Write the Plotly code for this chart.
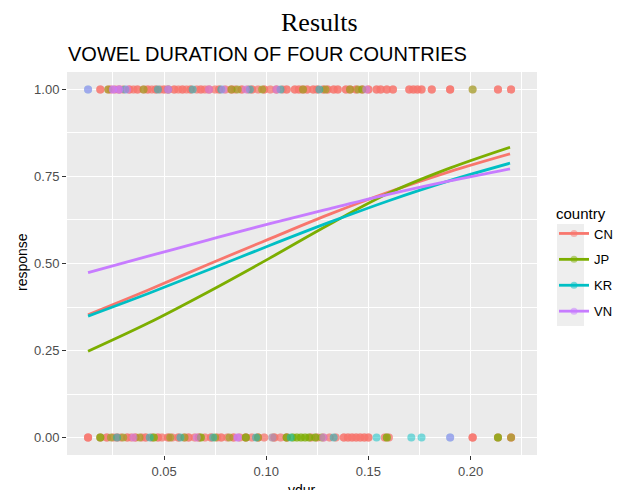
import numpy as np
import plotly.graph_objects as go

# ---------------- data ----------------
countries = ["CN", "JP", "KR", "VN"]
colors = {"CN": "#F8766D", "JP": "#7CAE00", "KR": "#00BFC4", "VN": "#C77CFF"}

# observed vowel durations (vdur) with response = 1 / response = 0, with repeat counts
CN_resp1 = [0.0188, 0.0227, 0.024, 0.026, 0.028, 0.030, 0.033, 0.035, 0.037, 0.040, 0.042, 0.044,
            0.046, 0.048, 0.050, 0.052, 0.055, 0.057, 0.059, 0.061, 0.063, 0.066, 0.068, 0.070,
            0.072, 0.075, 0.077, 0.080, 0.083, 0.085, 0.088, 0.091, 0.093, 0.096, 0.099, 0.102,
            0.105, 0.108, 0.110, 0.114, 0.116, 0.118, 0.120, 0.123, 0.125, 0.128, 0.130, 0.133,
            0.135, 0.139, 0.141, 0.144, 0.147, 0.150, 0.154, 0.156, 0.159, 0.162, 0.170, 0.172,
            0.174, 0.176, 0.181, 0.190, 0.201, 0.2134, 0.2198]
CN_resp1_n = [3, 2, 2, 2, 3, 2, 3, 2, 3, 2, 3, 2, 3, 2, 3, 2, 3, 2, 3, 2, 3, 2, 3, 2, 3, 2, 3, 2, 3,
              2, 3, 2, 3, 2, 3, 2, 3, 2, 3, 3, 3, 3, 3, 3, 3, 3, 3, 3, 3, 3, 3, 3, 3, 3, 3, 3, 3, 3,
              3, 3, 3, 3, 3, 4, 1, 3, 3]
CN_resp0 = [0.0128, 0.0188, 0.022, 0.025, 0.027, 0.029, 0.032, 0.034, 0.036, 0.039, 0.041, 0.044,
            0.047, 0.049, 0.052, 0.054, 0.057, 0.060, 0.062, 0.065, 0.067, 0.070, 0.073, 0.076,
            0.078, 0.081, 0.084, 0.087, 0.090, 0.093, 0.096, 0.099, 0.104, 0.107, 0.110, 0.122,
            0.125, 0.128, 0.131, 0.134, 0.138, 0.140, 0.142, 0.144, 0.146, 0.148, 0.150, 0.158,
            0.160, 0.201, 0.2134, 0.2198]
CN_resp0_n = [4, 2, 3, 2, 3, 2, 3, 2, 3, 2, 3, 2, 3, 2, 3, 2, 3, 2, 3, 2, 3, 2, 3, 2, 3, 2, 3, 2, 3,
              2, 3, 2, 3, 2, 3, 2, 2, 2, 2, 2, 3, 3, 3, 3, 3, 3, 3, 2, 2, 4, 2, 3]

JP_resp1 = [0.0227, 0.040, 0.052, 0.083, 0.086, 0.098, 0.118, 0.129, 0.141, 0.145, 0.147, 0.201]
JP_resp1_n = [1, 1, 1, 1, 1, 1, 1, 1, 1, 1, 1, 1]
JP_resp0 = [0.0188, 0.024, 0.030, 0.038, 0.045, 0.053, 0.060, 0.068, 0.075, 0.082, 0.090, 0.096,
            0.103, 0.110, 0.113, 0.115, 0.117, 0.119, 0.121, 0.124, 0.127, 0.159, 0.2134, 0.2198]
JP_resp0_n = [2, 1, 1, 1, 2, 1, 1, 2, 1, 1, 2, 1, 1, 2, 2, 2, 2, 2, 2, 2, 1, 2, 2, 1]

KR_resp1 = [0.0128, 0.031, 0.047, 0.064, 0.078, 0.092, 0.107, 0.126]
KR_resp1_n = [1, 1, 1, 1, 1, 1, 1, 1]
KR_resp0 = [0.027, 0.043, 0.058, 0.074, 0.095, 0.112, 0.133, 0.154, 0.171, 0.176, 0.190]
KR_resp0_n = [1, 1, 1, 1, 1, 1, 1, 1, 1, 1, 1]

VN_resp1 = [0.0128, 0.025, 0.028, 0.032, 0.052, 0.072, 0.079, 0.090, 0.105, 0.149]
VN_resp1_n = [1, 2, 2, 1, 2, 1, 1, 1, 1, 1]
VN_resp0 = [0.035, 0.066, 0.086, 0.103, 0.128, 0.190]
VN_resp0_n = [1, 1, 2, 1, 1, 1]

points = {
    "CN": (CN_resp1, CN_resp1_n, CN_resp0, CN_resp0_n),
    "JP": (JP_resp1, JP_resp1_n, JP_resp0, JP_resp0_n),
    "KR": (KR_resp1, KR_resp1_n, KR_resp0, KR_resp0_n),
    "VN": (VN_resp1, VN_resp1_n, VN_resp0, VN_resp0_n),
}

# fitted logistic curves
fit_vdur = [0.0128, 0.0423, 0.0718, 0.1013, 0.1308, 0.1603, 0.1898, 0.2193]
CN_fit = [0.353, 0.424, 0.498, 0.570, 0.641, 0.706, 0.764, 0.815]
JP_fit = [0.248, 0.329, 0.419, 0.514, 0.612, 0.703, 0.774, 0.834]
KR_fit = [0.349, 0.414, 0.482, 0.551, 0.618, 0.681, 0.738, 0.788]
VN_fit = [0.474, 0.521, 0.568, 0.614, 0.657, 0.699, 0.737, 0.772]
fits = {"CN": CN_fit, "JP": JP_fit, "KR": KR_fit, "VN": VN_fit}

x_ticks = [0.05, 0.10, 0.15, 0.20]
x_tick_labels = ["0.05", "0.10", "0.15", "0.20"]
y_ticks = [0.0, 0.25, 0.5, 0.75, 1.0]
y_tick_labels = ["0.00", "0.25", "0.50", "0.75", "1.00"]

# ---------------- figure ----------------
SANS = "Liberation Sans, Arial, sans-serif"
fig = go.Figure()

for c in countries:
    r1, n1, r0, n0 = points[c]
    xs = list(np.repeat(r1, n1)) + list(np.repeat(r0, n0))
    ys = [1] * int(np.sum(n1)) + [0] * int(np.sum(n0))
    fig.add_trace(go.Scatter(
        x=xs, y=ys, mode="markers", showlegend=False, hoverinfo="skip",
        marker=dict(color=colors[c], size=8, opacity=0.5, line=dict(width=0)),
    ))

for c in countries:
    fig.add_trace(go.Scatter(
        x=fit_vdur, y=fits[c], mode="lines", showlegend=False,
        line=dict(color=colors[c], width=2.8, shape="spline", smoothing=1.0),
    ))

# legend entries (line + point key)
for c in countries:
    fig.add_trace(go.Scatter(
        x=[None], y=[None], mode="lines+markers", name=c, legendgroup=c,
        line=dict(color=colors[c], width=2.8),
        marker=dict(color=colors[c], size=7, opacity=0.5),
    ))

L, R, T, B = 67, 84, 72, 35
W, H = 621, 490
pw, ph = W - L - R, H - T - B

def px_x(p):
    return (p - L) / pw

def px_y(p):
    return (H - B - p) / ph

fig.update_layout(
    width=W, height=H,
    margin=dict(l=L, r=R, t=T, b=B, autoexpand=False),
    paper_bgcolor="white",
    plot_bgcolor="#EBEBEB",
    font=dict(family=SANS, color="#4D4D4D", size=13),
    showlegend=True,
    legend=dict(
        x=px_x(554), y=px_y(199), xanchor="left", yanchor="top",
        title=dict(text="country", font=dict(size=15, color="black", family=SANS)),
        font=dict(size=13, color="black", family=SANS),
        bgcolor="rgba(0,0,0,0)", tracegroupgap=6, itemwidth=30,
    ),
    xaxis=dict(
        range=[0.0025, 0.2325], tickvals=x_ticks, ticktext=x_tick_labels,
        showgrid=True, gridcolor="white", gridwidth=1.4,
        minor=dict(tickvals=[0.025, 0.075, 0.125, 0.175, 0.225], showgrid=True,
                   gridcolor="white", gridwidth=0.6, ticks=""),
        zeroline=False, showline=False,
        ticks="outside", ticklen=4, tickcolor="#333333", tickwidth=1,
        tickfont=dict(size=13, color="#4D4D4D"),
    ),
    yaxis=dict(
        range=[-0.05, 1.05], tickvals=y_ticks, ticktext=y_tick_labels,
        showgrid=True, gridcolor="white", gridwidth=1.4,
        minor=dict(tickvals=[0.125, 0.375, 0.625, 0.875], showgrid=True,
                   gridcolor="white", gridwidth=0.6, ticks=""),
        zeroline=False, showline=False,
        ticks="outside", ticklen=4, tickcolor="#333333", tickwidth=1,
        tickfont=dict(size=13, color="#4D4D4D"),
    ),
    shapes=[dict(
        type="rect", xref="paper", yref="paper",
        x0=px_x(557), x1=px_x(584), y0=px_y(326), y1=px_y(224),
        fillcolor="#EEEEEE", line=dict(width=0), layer="below",
    )],
    annotations=[
        dict(text="Results", xref="paper", yref="paper", x=px_x(319), y=px_y(22),
             xanchor="center", yanchor="middle", showarrow=False,
             font=dict(family="Liberation Serif, Times New Roman, serif", size=26, color="black")),
        dict(text="VOWEL DURATION OF FOUR COUNTRIES", xref="paper", yref="paper",
             x=px_x(66), y=px_y(54), xanchor="left", yanchor="middle", showarrow=False,
             font=dict(family=SANS, size=20, color="black")),
        dict(text="response", xref="paper", yref="paper", x=px_x(22), y=px_y(262),
             xanchor="center", yanchor="middle", textangle=-90, showarrow=False,
             font=dict(family=SANS, size=14, color="black")),
        dict(text="vdur", xref="paper", yref="paper", x=px_x(302), y=px_y(490),
             xanchor="center", yanchor="middle", showarrow=False,
             font=dict(family=SANS, size=14, color="black")),
    ],
)

fig.write_html("out.html")
